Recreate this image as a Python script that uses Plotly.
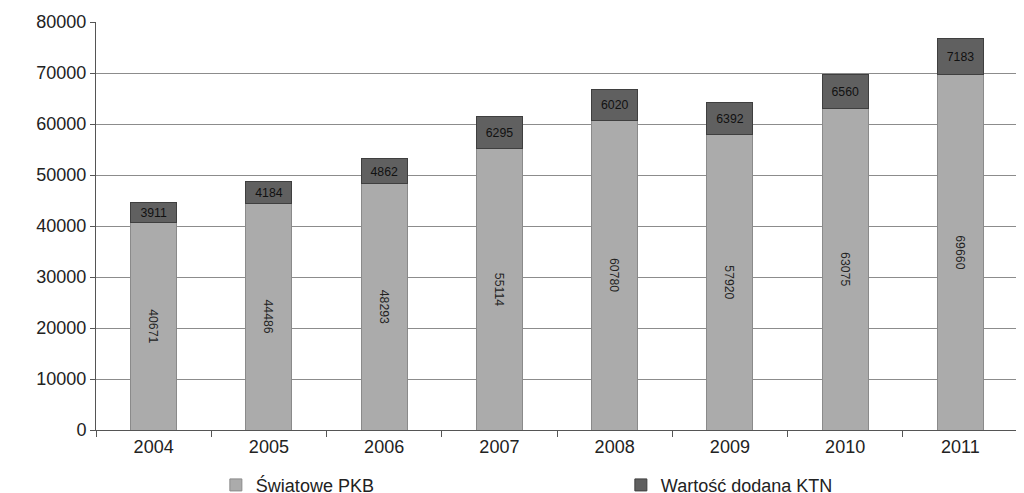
import plotly.graph_objects as go

years = ['2004', '2005', '2006', '2007', '2008', '2009', '2010', '2011']
swiatowe_pkb = [40671, 44486, 48293, 55114, 60780, 57920, 63075, 69660]
wartosc_ktn = [3911, 4184, 4862, 6295, 6020, 6392, 6560, 7183]

font = 'Liberation Sans, Arial, sans-serif'

fig = go.Figure()
fig.add_trace(go.Bar(
    x=years, y=swiatowe_pkb, name='Światowe PKB',
    marker=dict(color='#ababab', line=dict(color='#8a8a8a', width=1)),
    text=swiatowe_pkb, textposition='inside', insidetextanchor='middle',
    textfont=dict(size=15, color='#222222', family=font), width=0.4))
fig.add_trace(go.Bar(
    x=years, y=wartosc_ktn, name='Wartość dodana KTN',
    marker=dict(color='#606060', line=dict(color='#3f3f3f', width=1)),
    text=wartosc_ktn, textposition='inside', insidetextanchor='middle',
    textfont=dict(size=15, color='#111111', family=font), width=0.4))

fig.update_layout(
    barmode='stack',
    width=1024, height=493,
    margin=dict(l=88, r=14, t=14, b=71, autoexpand=False),
    plot_bgcolor='white', paper_bgcolor='white',
    font=dict(family=font, size=18, color='#222222'),
    uniformtext=dict(mode='show', minsize=12),
    xaxis=dict(showline=True, linecolor='#555555', ticks='outside',
               tickson='boundaries', ticklen=6, tickcolor='#555555',
               tickfont=dict(size=18), automargin=False),
    yaxis=dict(range=[0, 80000], dtick=10000, tickformat='d', showline=True,
               linecolor='#555555', gridcolor='#8c8c8c', ticks='outside',
               ticklen=5, tickcolor='#555555', tickfont=dict(size=18),
               automargin=False),
    legend=dict(orientation='h', traceorder='normal', x=0.13, xanchor='left',
                y=-0.09, yanchor='top', font=dict(size=18), itemwidth=30,
                entrywidth=360),
    bargap=0.6,
)

fig.write_html('out.html')
